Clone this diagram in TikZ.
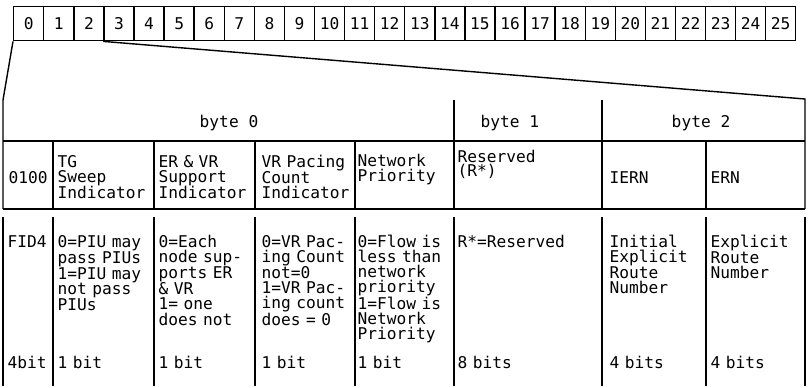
\documentclass[tikz,border=0pt]{standalone}
\usepackage{fontspec}
\setmonofont{DejaVu Sans Mono}
\begin{document}
\begin{tikzpicture}[x=1pt,y=-1pt,line width=1.4pt,
  every node/.style={inner sep=0pt,font=\ttfamily\fontsize{16.2}{15.15}\selectfont},
  cell/.style={anchor=base west,text width=150pt,align=left},
  bitbox/.style={draw,minimum width=30.08pt,minimum height=34pt,anchor=north west,line width=1.4pt}]
\useasboundingbox (0,0) rectangle (811,388);
% top strip of bit positions
\foreach \i in {0,...,25}{
  \node[bitbox] (b\i) at ({13+\i*30.08},6) {\i};
}
% fan lines
\coordinate (fl) at (3,100);
\coordinate (fr) at (805,99);
\draw (b0.south west) -- (fl) -- (3,209);
\draw (b3.south west) -- (fr) -- (805,209);
% horizontal rules
\draw (3,141) -- (805,141);
\draw (3,209) -- (805,209);
% byte row separators
\foreach \x in {454,602}{\draw (\x,100) -- (\x,141);}
% header separators
\foreach \x in {53,154,255,355,454,602,706}{\draw (\x,141) -- (\x,209);}
% lower separators
\foreach \x in {3,53,154,255,355,454,602,706,805}{\draw (\x,217) -- (\x,386);}
% byte labels
\node[anchor=base] (byte0) at (229,127) {byte 0};
\node[anchor=base west] (byte1) at (480,127) {byte 1};
\node[anchor=base] (byte2) at (701,127) {byte 2};
% header row
\node[cell] (h0) at (8,183) {0100};
\node[cell] (h1) at (57,167) {TG\\Sweep\\Indicator};
\node[cell] (h2) at (158,167) {ER \& VR\\Support\\Indicator};
\node[cell] (h3) at (261,167) {VR Pacing\\Count\\Indicator};
\node[cell] (h4) at (357,166) {Network\\Priority};
\node[cell] (h5) at (457,162) {Reserved\\[-0.5pt](R*)};
\node[cell] (h6) at (609,183) {IERN};
\node[cell] (h7) at (710,183) {ERN};
% description rows
\node[cell] (d0) at (7,247) {FID4};
\node[cell] (d1) at (57,247) {0=PIU may\\pass PIUs\\1=PIU may\\not pass\\PIUs};
\node[cell] (d2) at (158,247) {0=Each\\node sup-\\ports ER\\\& VR\\1= one\\does not};
\node[cell] (d3) at (261,247) {0=VR Pac-\\ing Count\\not=0\\1=VR Pac-\\ing count\\does = 0};
\node[cell] (d4) at (357,247) {0=Flow is\\less than\\network\\priority\\1=Flow is\\Network\\Priority};
\node[cell] (d5) at (457,247) {R*=Reserved};
\node[cell] (d6) at (609,247) {Initial\\Explicit\\Route\\Number};
\node[cell] (d7) at (710,247) {Explicit\\Route\\Number};
% bit counts
\node[cell] (s0) at (7,368) {4bit};
\node[cell] (s1) at (57,368) {1 bit};
\node[cell] (s2) at (158,368) {1 bit};
\node[cell] (s3) at (261,368) {1 bit};
\node[cell] (s4) at (357,368) {1 bit};
\node[cell] (s5) at (457,368) {8 bits};
\node[cell] (s6) at (609,368) {4 bits};
\node[cell] (s7) at (710,368) {4 bits};
\end{tikzpicture}
\end{document}
